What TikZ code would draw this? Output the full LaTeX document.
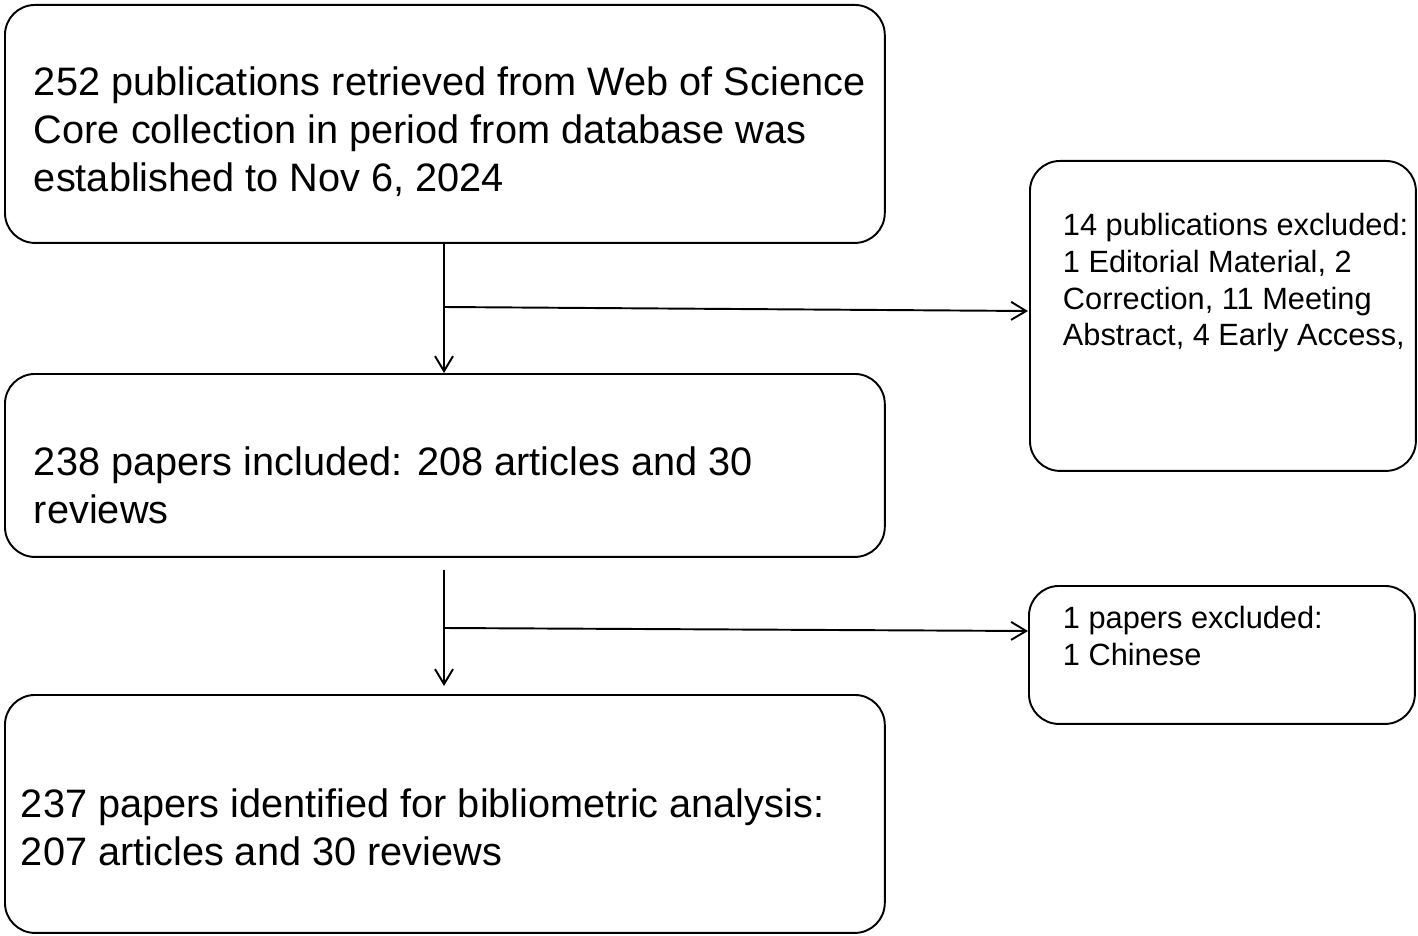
\documentclass[tikz,border=0pt]{standalone}
\usepackage{fontspec}
\setmainfont{Liberation Sans}
\usetikzlibrary{arrows.meta}
\begin{document}
\begin{tikzpicture}[x=0.02cm, y=-0.02cm,
    every path/.style={line width=1.1pt},
    >={Straight Barb[length=0.3cm, width=0.36cm]},
    box/.style={draw, rounded corners=0.6cm, anchor=north west, inner sep=0pt},
    bigtext/.style={anchor=north west, align=left, inner sep=0pt, font=\fontsize{22.6}{27.2}\selectfont},
    smalltext/.style={anchor=north west, align=left, inner sep=0pt, font=\fontsize{17.5}{21}\selectfont}]
    \useasboundingbox (0,0) rectangle (1418,936);
    %main column
    \node[box, minimum width=17.6cm, minimum height=4.76cm] (found) at (4,4) {};
    \node[box, minimum width=17.6cm, minimum height=3.66cm] (incl) at (4,373) {};
    \node[box, minimum width=17.6cm, minimum height=4.76cm] (final) at (4,694) {};
    \node[bigtext] at (33,66) {252 publications retrieved from Web of Science\\Core collection in period from database was\\established to Nov 6, 2024};
    \node[bigtext] at (33,446) {238 papers included: 208 articles and 30\\reviews};
    \node[bigtext] at (20,788) {237 papers identified for bibliometric analysis:\\207 articles and 30 reviews};
    %exclusions
    \node[box, minimum width=7.72cm, minimum height=6.2cm] (excla) at (1029,160) {};
    \node[box, minimum width=7.72cm, minimum height=2.76cm] (exclb) at (1028,585) {};
    \node[smalltext] at (1062,212) {14 publications excluded:\\1 Editorial Material, 2\\Correction, 11 Meeting\\Abstract, 4 Early Access,};
    \node[smalltext] at (1062,605) {1 papers excluded:\\1 Chinese};
    %arrows
    \coordinate (splita) at (444,307);
    \coordinate (starb) at (444,570);
    \coordinate (splitb) at (444,628);
    \draw[->] (found.south -| splita) -- (incl.north -| splita);
    \draw[->] (splita) -- (1028,311);
    \draw[->] (starb) -- (444,686);
    \draw[->] (splitb) -- (1028,631);
\end{tikzpicture}
\end{document}
